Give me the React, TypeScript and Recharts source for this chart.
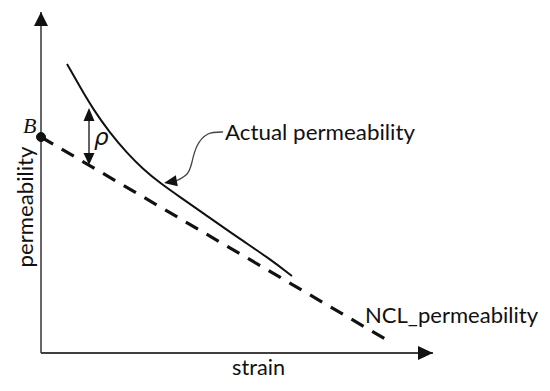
import { LineChart, Line, XAxis, YAxis, ReferenceDot, ReferenceLine, Customized } from 'recharts';

// axis units are arbitrary (schematic diagram)
const STRAIN_MAX = 392;
const PERM_MAX = 341;

// actual permeability curve
const curveStrain = [26, 39, 52, 69, 86, 102, 119, 139, 162, 196, 229, 251];
const curvePerm = [289, 266, 244, 220, 200, 184, 170, 156, 140, 116, 94, 77];

// NCL permeability (straight dashed line from point B)
const nclStrain = [0, 351];
const nclPerm = [216, 10];

// leader from the "Actual permeability" label to the curve
const leaderStrain = [182, 167, 156, 151, 146, 135];
const leaderPerm = [221, 219, 207, 191, 179, 172];
const leaderTip = { strain: 123, perm: 170 };

// rho offset arrow
const rhoStrain = 48;
const rhoPerm = [245, 188];

const toRows = (xs: number[], ys: number[]) => xs.map((x, i) => ({ strain: x, perm: ys[i] }));

const curveData = toRows(curveStrain, curvePerm);
const nclData = toRows(nclStrain, nclPerm);
const leaderData = toRows(leaderStrain, leaderPerm);

const FONT = 'Lato, "Open Sans", sans-serif';

// triangle arrowhead, tip at (cx, cy), pointing along angle (deg, svg coords)
const arrowHead = (angle: number, len: number, wid: number, fill = '#111') => (props: any) => {
  const { cx, cy } = props;
  if (cx == null || cy == null) return <g />;
  const a = (angle * Math.PI) / 180;
  const bx = cx - len * Math.cos(a);
  const by = cy - len * Math.sin(a);
  const px = -Math.sin(a) * (wid / 2);
  const py = Math.cos(a) * (wid / 2);
  const pts = `${cx},${cy} ${bx + px},${by + py} ${bx - px},${by - py}`;
  return <polygon points={pts} fill={fill} />;
};

const Labels = () => (
  <g fill="#111" fontFamily={FONT}>
    <text x={23} y={133} fontFamily='"Liberation Serif", serif' fontStyle="italic" fontSize={22}>B</text>
    <text x={94} y={145} fontFamily='"DejaVu Sans", sans-serif' fontStyle="italic" fontSize={23}>ρ</text>
    <text x={225} y={140} fontSize={22} textLength={190} lengthAdjust="spacingAndGlyphs">Actual permeability</text>
    <text x={365} y={323} fontSize={22} textLength={173} lengthAdjust="spacingAndGlyphs">NCL_permeability</text>
    <text x={232} y={375} fontSize={22} textLength={53} lengthAdjust="spacingAndGlyphs">strain</text>
    <text
      x={0}
      y={0}
      fontSize={22}
      textLength={121}
      lengthAdjust="spacingAndGlyphs"
      textAnchor="middle"
      transform="translate(33,207) rotate(-90)"
    >
      permeability
    </text>
  </g>
);

export default function App() {
  return (
    <div style={{ position: 'absolute', left: 0, top: 0, background: '#fff' }}>
      <LineChart width={550} height={391} margin={{ top: 12, right: 117, bottom: 37, left: 40 }}>
        <XAxis
          type="number"
          dataKey="strain"
          domain={[0, STRAIN_MAX]}
          height={1}
          tick={false}
          tickLine={false}
          axisLine={{ stroke: '#404040', strokeWidth: 2 }}
        />
        <YAxis
          type="number"
          dataKey="perm"
          domain={[0, PERM_MAX]}
          width={1}
          tick={false}
          tickLine={false}
          axisLine={{ stroke: '#404040', strokeWidth: 1.6 }}
        />
        <Line
          data={nclData}
          dataKey="perm"
          type="linear"
          stroke="#111"
          strokeWidth={3.2}
          strokeDasharray="14 10"
          dot={false}
          activeDot={false}
          isAnimationActive={false}
        />
        <Line
          data={curveData}
          dataKey="perm"
          type="basis"
          stroke="#111"
          strokeWidth={2}
          dot={false}
          activeDot={false}
          isAnimationActive={false}
        />
        <Line
          data={leaderData}
          dataKey="perm"
          type="natural"
          stroke="#444"
          strokeWidth={1.3}
          dot={false}
          activeDot={false}
          isAnimationActive={false}
        />
        <ReferenceLine
          segment={[{ x: rhoStrain, y: rhoPerm[0] - 6 }, { x: rhoStrain, y: rhoPerm[1] + 6 }]}
          stroke="#222"
          strokeWidth={1.4}
        />
        <ReferenceDot x={rhoStrain} y={rhoPerm[0]} r={1} shape={arrowHead(-90, 13, 11)} />
        <ReferenceDot x={rhoStrain} y={rhoPerm[1]} r={1} shape={arrowHead(90, 12, 11)} />
        <ReferenceDot x={leaderTip.strain} y={leaderTip.perm} r={1} shape={arrowHead(170, 13, 11)} />
        <ReferenceDot x={STRAIN_MAX} y={0} r={1} shape={arrowHead(0, 15, 14)} />
        <ReferenceDot x={0} y={PERM_MAX} r={1} shape={arrowHead(-90, 14, 14)} />
        <ReferenceDot x={nclStrain[0]} y={nclPerm[0]} r={4.5} fill="#111" stroke="#111" />
        <Customized component={Labels} />
      </LineChart>
    </div>
  );
}
